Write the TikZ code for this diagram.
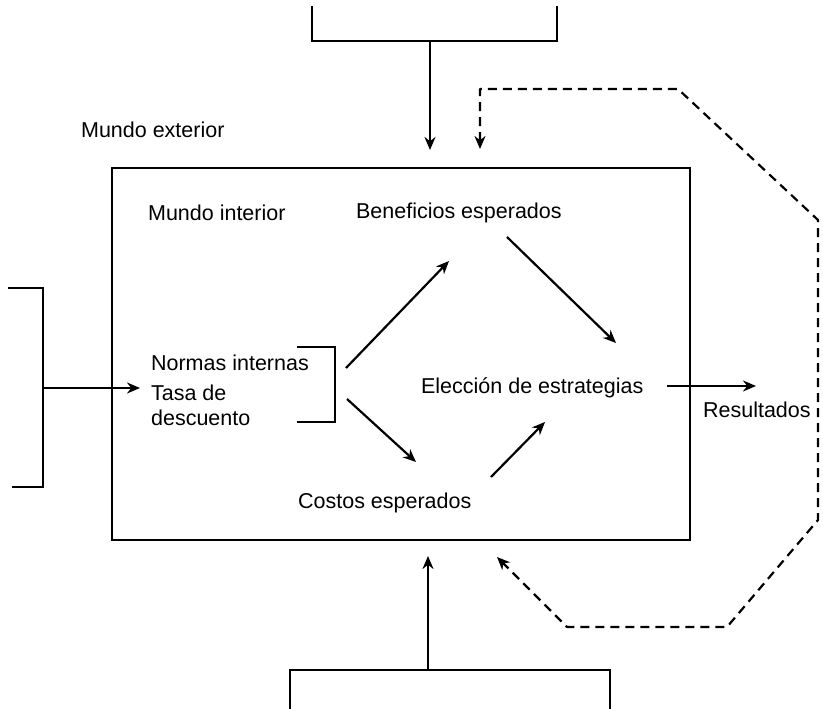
\documentclass[tikz,border=0pt]{standalone}
\usepackage{fontspec}
\setmainfont{Liberation Sans}
\usetikzlibrary{arrows.meta}
\begin{document}
\begin{tikzpicture}[x=1pt,y=-1pt, line width=2.2pt,
  lbl/.style={anchor=base west, inner sep=0pt, font=\fontsize{21.5}{26}\selectfont},
  arr/.style={-{Stealth[length=13pt,width=11pt]}},
  dsh/.style={dash pattern=on 9pt off 6pt, line join=round}]
\useasboundingbox (0,0) rectangle (823,709);
% main box
\node (box) [draw, inner sep=0pt, minimum width=578pt, minimum height=372pt] at (401,354) {};
% labels
\node (ext) [lbl] at (80,137) {Mundo exterior};
\node (int) [lbl] at (147,220) {Mundo interior};
\node (ben) [lbl] at (355,218) {Beneficios esperados};
\node (nor) [lbl] at (150,370) {Normas internas};
\node (tas) [lbl] at (150,400) {Tasa de};
\node (des) [lbl] at (150,425) {descuento};
\node (ele) [lbl] at (420,393) {Elección de estrategias};
\node (cos) [lbl] at (297,508) {Costos esperados};
\node (res) [lbl] at (702,417) {Resultados};
% top bracket
\coordinate (ta) at (312,6);
\coordinate (tb) at (312,41);
\coordinate (tc) at (557,41);
\coordinate (td) at (557,6);
\coordinate (tm) at (430,41);
\coordinate (tt) at (430,150);
\draw (ta) -- (tb) -- (tc) -- (td);
\draw[arr] (tm) -- (tt);
% bottom bracket
\coordinate (ba) at (290,709);
\coordinate (bb) at (290,670);
\coordinate (bc) at (610,670);
\coordinate (bd) at (610,709);
\coordinate (bm) at (428,670);
\coordinate (bt) at (428,556);
\draw (ba) -- (bb) -- (bc) -- (bd);
\draw[arr] (bm) -- (bt);
% left bracket
\coordinate (la) at (8,288);
\coordinate (lb) at (43,288);
\coordinate (lc) at (43,487);
\coordinate (ld) at (12,487);
\coordinate (lm) at (43,388);
\coordinate (lt) at (140,388);
\draw (la) -- (lb) -- (lc) -- (ld);
\draw[arr] (lm) -- (lt);
% inner bracket
\coordinate (ia) at (297,347);
\coordinate (ib) at (335,347);
\coordinate (ic) at (335,422);
\coordinate (id) at (297,422);
\draw (ia) -- (ib) -- (ic) -- (id);
% inner arrows
\coordinate (a1s) at (346,368); \coordinate (a1e) at (449,261);
\coordinate (a2s) at (507,237); \coordinate (a2e) at (616,343);
\coordinate (a3s) at (347,399); \coordinate (a3e) at (416,462);
\coordinate (a4s) at (491,477); \coordinate (a4e) at (545,422);
\coordinate (a5s) at (667,386); \coordinate (a5e) at (756,386);
\draw[arr] (a1s) -- (a1e);
\draw[arr] (a2s) -- (a2e);
\draw[arr] (a3s) -- (a3e);
\draw[arr] (a4s) -- (a4e);
\draw[arr] (a5s) -- (a5e);
% dashed feedback
\coordinate (d0) at (480,149);
\coordinate (d1) at (480,89);
\coordinate (d2) at (678,89);
\coordinate (d3) at (818,220);
\coordinate (d4) at (818,520);
\coordinate (d5) at (727,627);
\coordinate (d6) at (567,627);
\coordinate (d7) at (497,557);
\draw[dsh, {Stealth[length=13pt,width=11pt]}-{Stealth[length=13pt,width=11pt]}] (d0) -- (d1) -- (d2) -- (d3) -- (d4) -- (d5) -- (d6) -- (d7);
\end{tikzpicture}
\end{document}
